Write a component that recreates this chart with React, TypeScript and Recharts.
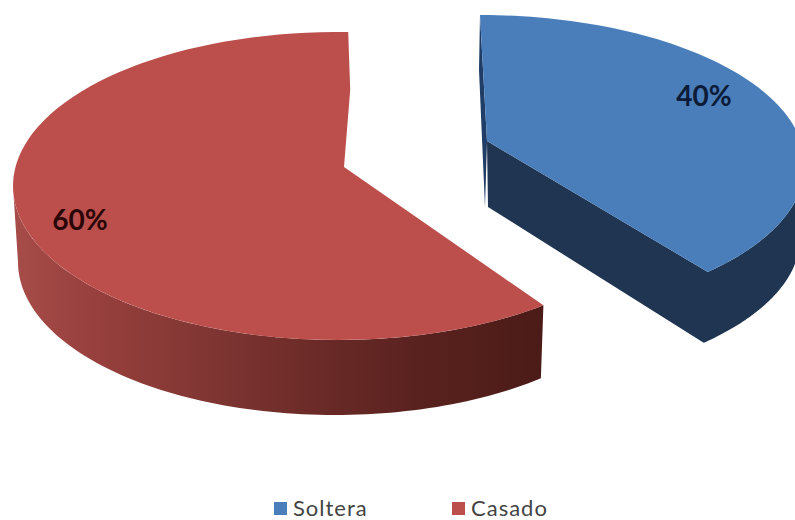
import React from 'react';
import { PieChart, Pie, Legend } from 'recharts';

const categories = ['Soltera', 'Casado'];
const shares = [40, 60];
const topColors = ['#4A7EBB', '#BC4F4C'];
const labelColors = ['#0C1C38', '#2A0606'];

const tableData = categories.map((name, i) => ({ name, value: shares[i], fill: topColors[i] }));

const W = 795;
const H = 520;
const PIE_CX = 338;
const PIE_CY = 186;
const PIE_R = 325;

type Ell = { dx: number; dy: number; rx: number; ry: number };
type Geo = {
  top: Ell;
  bottom: Ell;
  apex: [number, number];
  startShift: number;
  endShift: number;
  bottomStartShift: number;
  sideTo: number;
  label: [number, number];
};

// Perspective look of each exploded slice, relative to the pie centre.
const geometry: Record<string, Geo> = {
  Soltera: {
    top: { dx: 142, dy: -21, rx: 325, ry: 150 },
    bottom: { dx: 140, dy: 52, rx: 322, ry: 147 },
    apex: [149, -45],
    startShift: 0,
    endShift: 8.5,
    bottomStartShift: 0,
    sideTo: 0,
    label: [366, -91],
  },
  Casado: {
    top: { dx: 0, dy: 0, rx: 325, ry: 154 },
    bottom: { dx: -3, dy: 76, rx: 317, ry: 153 },
    apex: [6, -19],
    startShift: 3.2,
    endShift: -1.8,
    bottomStartShift: 4.5,
    sideTo: -180,
    label: [-258, 33],
  },
};

const rad = (d: number) => (d * Math.PI) / 180;

function arc(cx: number, cy: number, e: Ell, from: number, to: number) {
  const n = 90;
  const pts: string[] = [];
  for (let i = 0; i <= n; i++) {
    const t = rad(from + ((to - from) * i) / n);
    pts.push(`${(cx + e.dx + e.rx * Math.cos(t)).toFixed(2)},${(cy + e.dy - e.ry * Math.sin(t)).toFixed(2)}`);
  }
  return pts;
}

function Slice3D(props: any) {
  const { cx, cy, startAngle, endAngle, name, fill } = props;
  const g = geometry[name];
  const tStart = startAngle + g.startShift;
  const tEnd = endAngle + g.endShift;
  const bStart = startAngle + g.bottomStartShift;
  const apexX = cx + g.apex[0];
  const apexY = cy + g.apex[1];
  const topArc = arc(cx, cy, g.top, tStart, tEnd);
  const isBlue = name === 'Soltera';

  if (isBlue) {
    const [sx, sy] = topArc[0].split(',').map(Number);
    const bottomArc = arc(cx, cy, g.bottom, tEnd, g.sideTo);
    const backArc = arc(cx, cy, g.top, g.sideTo, tEnd);
    const wall = [`${apexX},${apexY}`, `${apexX + 1},${apexY + 66}`, ...bottomArc, ...backArc].join(' ');
    const sliver = [`${sx},${sy}`, `${sx - 1},${sy + 55}`, `${apexX - 2},${apexY + 66}`, `${apexX},${apexY}`].join(' ');
    const surface = [`${apexX},${apexY}`, ...topArc.slice().reverse()].join(' ');
    return (
      <g>
        <polygon points={sliver} fill="#1F3D66" />
        <polygon points={wall} fill="#1F3552" />
        <polygon points={surface} fill={fill} />
      </g>
    );
  }

  const [endX, endY] = topArc[topArc.length - 1].split(',').map(Number);
  const frontTop = arc(cx, cy, g.top, tStart, g.sideTo);
  const frontBottom = arc(cx, cy, g.bottom, g.sideTo, bStart);
  const wall = [...frontTop, ...frontBottom].join(' ');
  const surface = [`${apexX},${apexY}`, ...topArc, `${endX + 2},${endY + 58}`].join(' ');
  return (
    <g>
      <defs>
        <linearGradient id="redWall" gradientUnits="userSpaceOnUse" x1={15} y1={0} x2={545} y2={0}>
          <stop offset="0" stopColor="#A64C49" />
          <stop offset="0.16" stopColor="#963F3C" />
          <stop offset="0.4" stopColor="#7C3431" />
          <stop offset="0.54" stopColor="#6E2C29" />
          <stop offset="0.75" stopColor="#5A221F" />
          <stop offset="1" stopColor="#4B1B17" />
        </linearGradient>
      </defs>
      <polygon points={wall} fill="url(#redWall)" />
      <polygon points={surface} fill={fill} />
    </g>
  );
}

function renderLabel(props: any) {
  const { cx, cy, name, percent } = props;
  const g = geometry[name];
  const i = categories.indexOf(name);
  return (
    <text
      x={cx + g.label[0]}
      y={cy + g.label[1]}
      textAnchor="middle"
      dominantBaseline="central"
      fontFamily="Lato, 'Liberation Sans', sans-serif"
      fontWeight={700}
      fontSize={28}
      fill={labelColors[i]}
    >
      {`${Math.round(percent * 100)}%`}
    </text>
  );
}

function LegendRow(props: any) {
  const items = [...(props.payload || [])].sort(
    (a: any, b: any) => categories.indexOf(a.value) - categories.indexOf(b.value),
  );
  return (
    <div style={{ display: 'flex', fontFamily: "Lato, 'Liberation Sans', sans-serif", fontSize: 22, letterSpacing: 1, color: '#444', lineHeight: '20px', height: 20 }}>
      {items.map((p: any) => (
        <div key={p.value} style={{ display: 'flex', alignItems: 'center', width: 178 }}>
          <span style={{ display: 'inline-block', width: 13, height: 13, background: p.color, marginRight: 6 }} />
          <span style={{ display: 'inline-block', height: 20, lineHeight: '20px', overflow: 'visible' }}>{p.value}</span>
        </div>
      ))}
    </div>
  );
}

export default function App() {
  return (
    <div style={{ position: 'absolute', left: 0, top: 0, width: W, height: H, overflow: 'hidden', background: '#fff' }}>
      <PieChart width={W} height={H} margin={{ top: 0, right: 0, bottom: 0, left: 0 }}>
        <Pie
          data={tableData}
          dataKey="value"
          nameKey="name"
          cx={PIE_CX}
          cy={PIE_CY}
          outerRadius={PIE_R}
          startAngle={90}
          endAngle={-270}
          stroke="none"
          isAnimationActive={false}
          shape={Slice3D}
          label={renderLabel}
          labelLine={false}
        />
        <Legend
          content={LegendRow}
          wrapperStyle={{ position: 'absolute', left: 274, top: 498, width: 400, height: 20 }}
        />
      </PieChart>
    </div>
  );
}
